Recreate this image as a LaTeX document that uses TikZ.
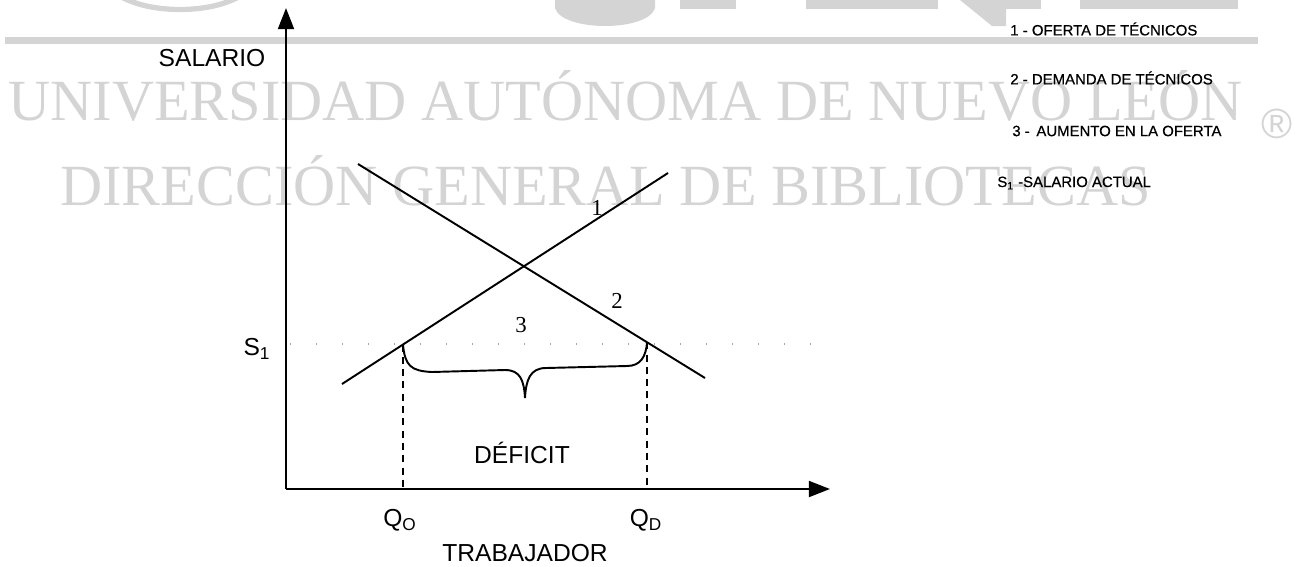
\documentclass[tikz,border=0pt]{standalone}
\usepackage{fontspec}
\setmainfont{Liberation Sans}
\newfontfamily\wmserif{Liberation Serif}
\newfontfamily\legendfont[FakeBold=0.6]{Liberation Sans}
\usetikzlibrary{arrows.meta,calc}
\definecolor{wmgray}{RGB}{212,212,212}
\tikzset{
    axis-line/.style = {line width=1.4pt, -{Triangle[length=12pt, width=9pt]}},
    curve-line/.style = {line width=1.1pt},
    guide-line/.style = {line width=1pt, dash pattern=on 4pt off 3pt},
    level-line/.style = {gray!70, line width=0.8pt, dash pattern=on 0.8pt off 14pt},
    axis-label/.style = {font=\fontsize{14}{16}\selectfont, inner sep=0pt},
    curve-label/.style = {font=\wmserif\fontsize{13}{15}\selectfont, inner sep=0pt},
    legend-text/.style = {font=\legendfont\fontsize{8.5}{10}\selectfont, anchor=west, inner sep=0pt},
    watermark/.style = {text=wmgray, font=\wmserif\fontsize{33.2}{36}\selectfont, inner sep=0pt, anchor=base west},
}

\begin{document}
\begin{tikzpicture}[x=0.02cm, y=-0.02cm]
\useasboundingbox (0,0) rectangle (1295,566);

\draw[wmgray, line width=3pt] (120,-4) .. controls (150,14) and (210,14) .. (240,-4);
\fill[wmgray] (555,0) -- (555,8) .. controls (562,32) and (648,32) .. (655,8) -- (655,0) -- cycle;
\fill[wmgray] (680,0) rectangle (736,9);
\fill[wmgray] (806,0) rectangle (938,9);
\fill[wmgray] (960,0) -- (992,26) -- (1006,26) -- (1006,0) -- cycle;
\fill[wmgray] (1006,0) rectangle (1041,9);
\fill[wmgray] (1080,0) rectangle (1238,9);
\fill[wmgray] (5,37) rectangle (1258,44);
\node[watermark] (wm-univ) at (8,120) {UNIVERSIDAD AUTÓNOMA DE NUEVO LEÓN};
\node[watermark] (wm-dir) at (60,205) {DIRECCIÓN GENERAL DE BIBLIOTECAS};
\node[text=wmgray, font=\fontsize{24}{26}\selectfont, inner sep=0pt] (wm-reg) at (1277,124) {®};

\coordinate (origin) at (286,489);
\coordinate (y-tip) at (286,8);
\coordinate (x-tip) at (830,489);
\draw[axis-line] (origin) -- (y-tip);
\draw[axis-line] (origin) -- (x-tip);

\coordinate (s-low) at (342,384);
\coordinate (s-high) at (668,173);
\coordinate (d-high) at (358,164);
\coordinate (d-low) at (705,378);
\draw[curve-line] (s-low) -- (s-high);
\draw[curve-line] (d-high) -- (d-low);

\coordinate (q-o-top) at ($(s-low)!0.187!(s-high)$);
\coordinate (q-d-top) at ($(d-high)!0.833!(d-low)$);
\draw[guide-line] (q-o-top) -- (q-o-top |- origin);
\draw[guide-line] (q-d-top) -- (q-d-top |- origin);

\coordinate (s-level) at (290,344);
\coordinate (s-end) at (830,344);
\draw[level-line] (s-level) -- (s-end);

\draw[curve-line] (q-o-top) .. controls (405,366) and (411,371) .. (432,372) -- (505,370)
    .. controls (520,370) and (524,380) .. (525,398)
    .. controls (526,380) and (530,368) .. (546,368) -- (627,366)
    .. controls (641,366) and (646,356) .. (q-d-top);

\node[curve-label] (lbl-one) at (597,208) {1};
\node[curve-label] (lbl-two) at (617,301) {2};
\node[curve-label] (lbl-three) at (521,325) {3};

\node[axis-label] (salario) at (212,58) {SALARIO};
\node[axis-label] (s-one) at (257,349) {S\textsubscript{1}};
\node[axis-label] (q-o) at (400,520) {Q\textsubscript{O}};
\node[axis-label] (q-d) at (646,520) {Q\textsubscript{D}};
\node[axis-label] (trabajador) at (525,553) {TRABAJADOR};
\node[axis-label] (deficit) at (522,453) {DÉFICIT};

\node[legend-text] (leg-one) at (1010,29) {1 - OFERTA DE TÉCNICOS};
\node[legend-text] (leg-two) at (1010,78) {2 - DEMANDA DE TÉCNICOS};
\node[legend-text] (leg-three) at (1012,131) {3 - \,AUMENTO EN LA OFERTA};
\node[legend-text] (leg-four) at (997,183) {S\textsubscript{1} -SALARIO ACTUAL};
\end{tikzpicture}
\end{document}
